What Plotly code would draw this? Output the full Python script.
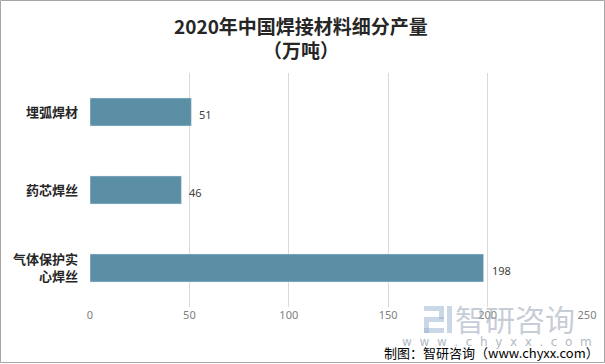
import plotly.graph_objects as go

categories = ["埋弧焊材", "药芯焊丝", "气体保护实<br>心焊丝"]
values = [51, 46, 198]
tick_vals = [0, 50, 100, 150, 200, 250]

W, H = 605, 364
L, R, T, B = 90, 18, 73, 57
pw, ph = W - L - R, H - T - B

def px(x):
    return (x - L) / pw

def py(y):
    return 1 - (y - T) / ph

fig = go.Figure(go.Bar(
    y=categories, x=values, orientation="h",
    marker_color="#5B8FA6", width=0.36, hoverinfo="skip",
))

for c, v in zip(categories, values):
    fig.add_annotation(x=v, y=c, text=str(v), xanchor="left", yanchor="middle",
                       xshift=6, yshift=-2, showarrow=False,
                       font=dict(size=11, color="#404040", family="Noto Sans, DejaVu Sans"))

fig.update_layout(
    width=W, height=H, margin=dict(l=L, r=R, t=T, b=B, autoexpand=False),
    paper_bgcolor="white", plot_bgcolor="white", showlegend=False,
    font=dict(family="Noto Sans CJK SC"),
    xaxis=dict(range=[0, 250], tickvals=tick_vals, showgrid=True,
               gridcolor="#D9D9D9", gridwidth=1, zeroline=False, automargin=False,
               tickfont=dict(size=11, color="#808080", family="Noto Sans, DejaVu Sans"),
               ticks="", ticklen=0, showline=False),
    yaxis=dict(autorange="reversed", categoryorder="array", categoryarray=categories,
               tickvals=categories, ticktext=["<b>%s</b>" % c for c in categories],
               tickfont=dict(size=13, color="#262626", family="Noto Sans CJK SC"),
               ticks="", ticklabelstandoff=11, showline=False, automargin=False),
    bargap=0.64,
)

def note(text, x, y, size, color, family="Noto Sans CJK SC", xanchor="center"):
    fig.add_annotation(text=text, x=px(x), y=py(y), xref="paper", yref="paper",
                       xanchor=xanchor, yanchor="middle", showarrow=False,
                       font=dict(size=size, color=color, family=family))

# title
note("<b>2020年中国焊接材料细分产量</b>", 301, 25, 19, "#262626")
note("<b>（万吨）</b>", 301, 50, 19, "#262626")

# watermark
note("智研咨询", 515, 318, 30, "rgba(160,172,188,0.6)")
note("w  w  w  .  c  h  y  x  x  .  c  o  m", 497, 342, 12,
     "rgb(178,186,196)", family="DejaVu Sans")
for (x0, y0, x1, y1) in [(424, 306, 444, 311), (439, 311, 444, 319), (424, 317, 444, 322),
                         (424, 322, 429, 333), (424, 328, 444, 333), (447, 306, 452, 333)]:
    fig.add_shape(type="rect", xref="paper", yref="paper",
                  x0=px(x0), x1=px(x1), y0=py(y0), y1=py(y1),
                  line_width=0, fillcolor="rgba(150,175,205,0.5)")

# source
note("制图：智研咨询（www.chyxx.com）", 601, 352, 13, "#000000", xanchor="right")

# border
fig.add_shape(type="rect", xref="paper", yref="paper",
              x0=px(0.5), x1=px(604.5), y0=py(0.5), y1=py(362.5),
              line=dict(color="#A6A6A6", width=1))

fig.write_html("out.html", config={"displayModeBar": False},
               post_script="document.body.style.margin='0';document.body.style.overflow='hidden';")
